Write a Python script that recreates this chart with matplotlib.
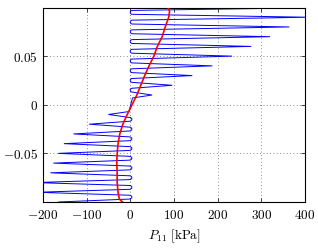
import matplotlib
matplotlib.use("Agg")
import matplotlib.pyplot as plt
from matplotlib.path import Path
from matplotlib.patches import PathPatch

plt.rcParams["mathtext.fontset"] = "cm"
plt.rcParams["font.family"] = "serif"

# spikes of the blue stress path (y position, tip of P11 in kPa)
upper_y = [0.10, 0.09, 0.08, 0.07, 0.06, 0.05, 0.04, 0.03, 0.02, 0.01]
upper_tip = [452, 408, 364, 320, 277, 233, 188, 142, 96, 50]
lower_y = [-0.01, -0.02, -0.03, -0.04, -0.05, -0.06, -0.07, -0.08, -0.09, -0.10]
lower_tip = [-50, -94, -130, -152, -165, -176, -183, -220, -215, -165]
upper_base = 5
upper_bend = -2
lower_base = -3
lower_bend = 6
half_gap = 0.003

# red mean curve
red_y = [0.100, 0.096, 0.090, 0.080, 0.070, 0.060, 0.050, 0.040, 0.030, 0.020,
         0.010, 0.000, -0.010, -0.020, -0.030, -0.040, -0.050, -0.060, -0.070,
         -0.080, -0.090, -0.097, -0.100]
red_x = [86, 90, 88, 80, 73, 62, 54, 43, 33, 24, 15, 4, -7, -17, -24, -28,
         -30, -31, -30, -30, -28, -25, -18]

x_ticks = [-200, -100, 0, 100, 200, 300, 400]
y_ticks = [-0.05, 0, 0.05]


def spike_path(ys, tips, base, bend, verts, codes):
    for i, (y, tip) in enumerate(zip(ys, tips)):
        if not verts:
            verts.append((base, y + half_gap))
            codes.append(Path.MOVETO)
        elif i > 0:
            y_prev = ys[i - 1]
            verts += [(bend, y_prev - half_gap), (bend, y + half_gap), (base, y + half_gap)]
            codes += [Path.CURVE4] * 3
        else:
            verts.append((base, y + half_gap))
            codes.append(Path.LINETO)
        verts += [(tip, y), (base, y - half_gap)]
        codes += [Path.LINETO, Path.LINETO]


verts, codes = [], []
spike_path(upper_y, upper_tip, upper_base, upper_bend, verts, codes)
spike_path(lower_y, lower_tip, lower_base, lower_bend, verts, codes)

fig = plt.figure(figsize=(3.18, 2.5), dpi=100)
ax = fig.add_axes([0.135, 0.192, 0.824, 0.778])

ax.add_patch(PathPatch(Path(verts, codes), fill=False, edgecolor="blue", lw=0.7, zorder=2))
ax.plot(red_x, red_y, color="red", lw=1.2, zorder=3)

ax.set_xlim(-200, 400)
ax.set_ylim(-0.1, 0.1)
ax.set_xticks(x_ticks)
ax.set_xticklabels([f"${v:g}$" for v in x_ticks])
ax.set_yticks(y_ticks)
ax.set_yticklabels([f"${v:g}$" for v in y_ticks])
ax.tick_params(direction="in", top=True, right=True, labelsize=9.5, length=3, width=0.5)
ax.tick_params(axis="x", pad=5)
ax.grid(True, linestyle=(0, (1, 3)), color="0.4", lw=0.6)
for s in ax.spines.values():
    s.set_linewidth(0.8)
ax.set_xlabel(r"$P_{11}\ [\mathrm{kPa}]$", fontsize=9.5, labelpad=4)

fig.savefig("out.png", dpi=100)
